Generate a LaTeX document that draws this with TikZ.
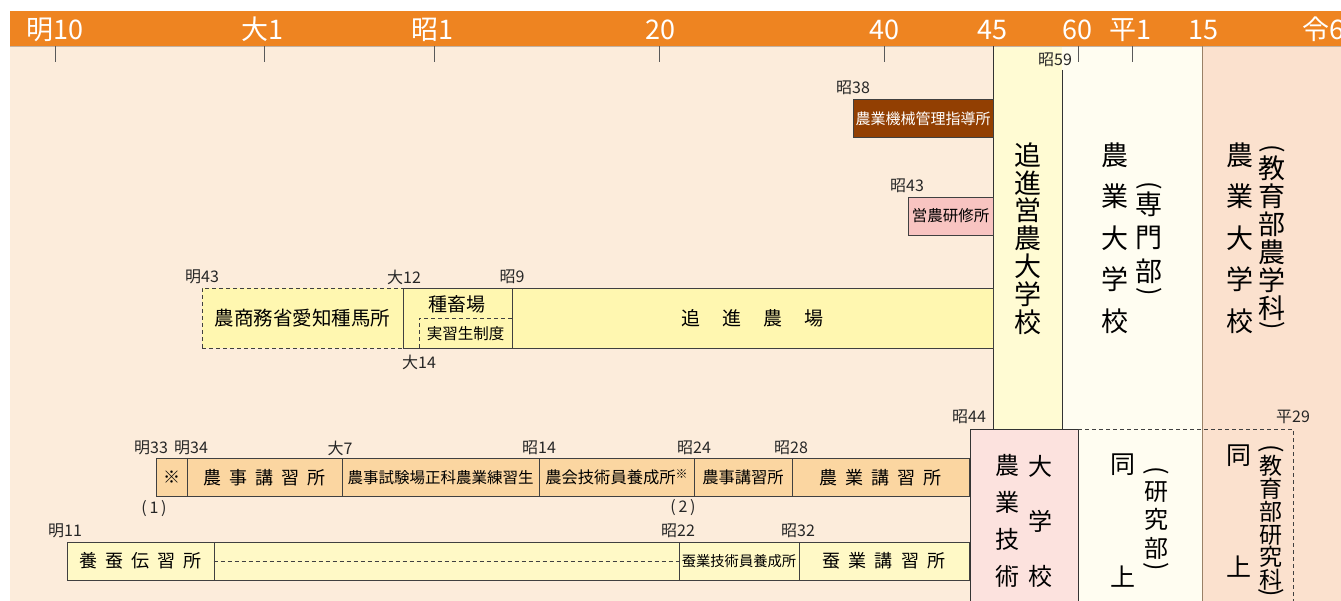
\documentclass[tikz,border=0pt]{standalone}
\usepackage{fontspec}
\setmainfont{Noto Sans CJK JP}
\definecolor{bg}{HTML}{FCECDB}
\definecolor{barorange}{HTML}{EE8421}
\definecolor{colone}{HTML}{FFFBD3}
\definecolor{coltwo}{HTML}{FFFDF1}
\definecolor{colthree}{HTML}{FBE1CE}
\definecolor{farmyellow}{HTML}{FFF7B0}
\definecolor{lecorange}{HTML}{FBD6A1}
\definecolor{silkyellow}{HTML}{FFF9C6}
\definecolor{kikaibrown}{HTML}{923F02}
\definecolor{kenshupink}{HTML}{F8C4C1}
\definecolor{gijutsupink}{HTML}{FCE2DE}
\newcommand\fs[1]{\fontsize{#1}{#1}\selectfont}
\newcommand\kk{\hspace{0.45em}}
\tikzset{every node/.style={inner sep=0pt},
era/.style={
font=\fs{27},
text=white,
anchor=base},
yr/.style={
font=\fs{16},
text=black!85},
box/.style={
draw=black!75,
line width=0.8pt,
minimum height=38pt,
font=\fs{17}},
lec/.style={box, fill=lecorange},
silk/.style={box, fill=silkyellow},
farm/.style={box, fill=farmyellow, minimum height=60pt},
tick/.style={draw=black!65, line width=0.8pt},
vtext/.style={align=center},
paren/.style={rotate=-90, font=\fs{25}},
dashline/.style={draw=black!75, line width=0.8pt, dash pattern=on 4pt off 3pt}}

\begin{document}
\begin{tikzpicture}[x=1pt, y=-1pt]
\useasboundingbox (0,0) rectangle (1341,601);
\fill[bg] (10,46) rectangle (1341,601);
\fill[colone] (993,46) rectangle (1062,601);
\fill[coltwo] (1062,46) rectangle (1202,601);
\fill[colthree] (1202,46) rectangle (1341,601);
\fill[barorange] (10,10.7) rectangle (1341,45.7);
\draw[brown!40!gray!60, line width=0.8pt] (10,46) -- (1341,46);
\draw[black!80, line width=0.8pt] (993,46) -- (993,601);
\draw[black!80, line width=0.8pt] (1062,70) -- (1062,601);
\draw[brown!40!gray, line width=0.8pt] (1202,46) -- (1202,601);

\node[era] (m10) at (55,40) {明10};
\node[era] (t1) at (262,40) {大1};
\node[era] (s1) at (432,40) {昭1};
\node[era] (s20) at (660,40) {20};
\node[era] (s40) at (884,40) {40};
\node[era] (s45) at (992,40) {45};
\node[era] (s60) at (1077,40) {60};
\node[era] (h1) at (1130,40) {平1};
\node[era] (h15) at (1203,40) {15};
\node[era, anchor=base west] (r6) at (1302,40) {令6};
\draw[tick] (55,46) -- (55,62);
\draw[tick] (264,46) -- (264,62);
\draw[tick] (434,46) -- (434,62);
\draw[tick] (659,46) -- (659,62);
\draw[tick] (884,46) -- (884,62);
\draw[tick] (1078,46) -- (1078,62);
\draw[tick] (1132,46) -- (1132,62);
\node[yr] (s59) at (1055,60) {昭59};

\node[box, fill=kikaibrown, text=white, minimum width=140pt, font=\fs{15}] (kikai) at (923,118.5) {農業機械管理指導所};
\node[yr] (s38) at (853,88) {昭38};
\node[box, fill=kenshupink, minimum width=85pt, font=\fs{15.5}] (kenshu) at (950.5,216) {営農研修所};
\node[yr] (s43) at (907,186) {昭43};

\node[farm, dashline, minimum width=201pt, font=\fs{19.5}] (shuba) at (302.5,318) {農商務省愛知種馬所};
\node[farm, minimum width=109pt] (shuchiku) at (457.5,318) {};
\node[font=\fs{19}] (shuchikut) at (457,304) {種畜場};
\draw[dashline] (419,348) -- (419,318) -- (512,318);
\node[font=\fs{15.5}] (jisshu) at (465.5,334) {実習生制度};
\node[farm, minimum width=481pt, font=\fs{19}] (oishin) at (752.5,318) {追\hspace{1.15em}進\hspace{1.15em}農\hspace{1.15em}場};
\node[yr] (m43) at (202,277) {明43};
\node[yr] (t12) at (404,277) {大12};
\node[yr] (s9) at (512,277) {昭9};
\node[yr] (t14) at (419,362) {大14};

\node[lec, minimum width=31pt] (kome) at (171.5,477.5) {※};
\node[lec, minimum width=155pt, font=\fs{18}] (noji) at (264.5,477.5) {農\kk 事\kk 講\kk 習\kk 所};
\node[lec, minimum width=197pt, font=\fs{15.5}] (shiken) at (440.5,477.5) {農事試験場正科農業練習生};
\node[lec, minimum width=155pt, font=\fs{16.3}] (nokai) at (616.5,477.5) {農会技術員養成所\raisebox{5pt}{\fs{12}※}};
\node[lec, minimum width=98pt, font=\fs{16.3}] (noji2) at (743,477.5) {農事講習所};
\node[lec, minimum width=177pt, font=\fs{18}] (nogyo) at (880.5,477.5) {農\kk 業\kk 講\kk 習\kk 所};
\node[yr] (m33) at (151,448) {明33};
\node[yr] (m34) at (191,448) {明34};
\node[yr] (t7) at (340,448) {大7};
\node[yr] (s14) at (539,448) {昭14};
\node[yr] (s24) at (694,448) {昭24};
\node[yr] (s28) at (791,448) {昭28};
\node[yr] (n1) at (154,509) {(\,1\,)};
\node[yr] (n2) at (683,508) {(\,2\,)};

\node[silk, minimum width=147pt, font=\fs{18}] (yosan) at (140.5,561) {養\kk 蚕\kk 伝\kk 習\kk 所};
\node[silk, minimum width=465pt] (blank) at (446.5,561) {};
\draw[dashline] (blank.west) -- (blank.east);
\node[silk, minimum width=120pt, font=\fs{14.3}] (sangi) at (739,561) {蚕業技術員養成所};
\node[silk, minimum width=170pt, font=\fs{18}] (sangyo) at (884,561) {蚕\kk 業\kk 講\kk 習\kk 所};
\node[yr] (m11) at (65,531) {明11};
\node[yr] (s22) at (678,531) {昭22};
\node[yr] (s32) at (798,531) {昭32};

\node[vtext, font=\fontsize{27}{27.8}\selectfont] (oishinu) at (1027.5,238.5) {追\\進\\営\\農\\大\\学\\校};
\node[vtext, font=\fontsize{27}{41.6}\selectfont] (nodai) at (1115,238) {農\\業\\大\\学\\校};
\node[vtext, font=\fontsize{27}{33.5}\selectfont] (senmon) at (1149,237.5) {専\\門\\部};
\node[paren] (sp1) at (1149,186) {(};
\node[paren] (sp2) at (1149,292) {)};
\node[vtext, font=\fontsize{27}{41.6}\selectfont] (nodai2) at (1240,238) {農\\業\\大\\学\\校};
\node[vtext, font=\fontsize{27}{28}\selectfont] (kyoiku) at (1272,238) {教\\育\\部\\農\\学\\科};
\node[paren] (kp1) at (1272,149) {(};
\node[paren] (kp2) at (1272,326) {)};

\draw[fill=gijutsupink, draw=black!80, line width=0.8pt] (970,610) -- (970,429) -- (1078,429) -- (1078,610);
\draw[dashline] (1078,429) -- (1293,429) -- (1293,610);
\node[yr] (s44) at (969,417) {昭44};
\node[yr] (h29) at (1293,417) {平29};
\node[vtext, font=\fontsize{24}{37}\selectfont] (gijutsu) at (1007,520.5) {農\\業\\技\\術};
\node[vtext, font=\fontsize{24}{55}\selectfont] (daigaku) at (1040,521) {大\\学\\校};
\node[vtext, font=\fontsize{25}{113}\selectfont] (dojo) at (1123,520.5) {同\\上};
\node[vtext, font=\fontsize{24}{28.5}\selectfont] (kenkyu) at (1156,520.5) {研\\究\\部};
\node[paren] (rp1) at (1156,471) {(};
\node[paren] (rp2) at (1156,567) {)};
\node[vtext, font=\fontsize{25}{112}\selectfont] (dojo2) at (1239,511) {同\\上};
\node[vtext, font=\fontsize{23}{22.8}\selectfont] (kyoiku2) at (1271,523) {教\\育\\部\\研\\究\\科};
\node[paren] (ep1) at (1271,449) {(};
\node[paren] (ep2) at (1271,593) {)};
\end{tikzpicture}
\end{document}
